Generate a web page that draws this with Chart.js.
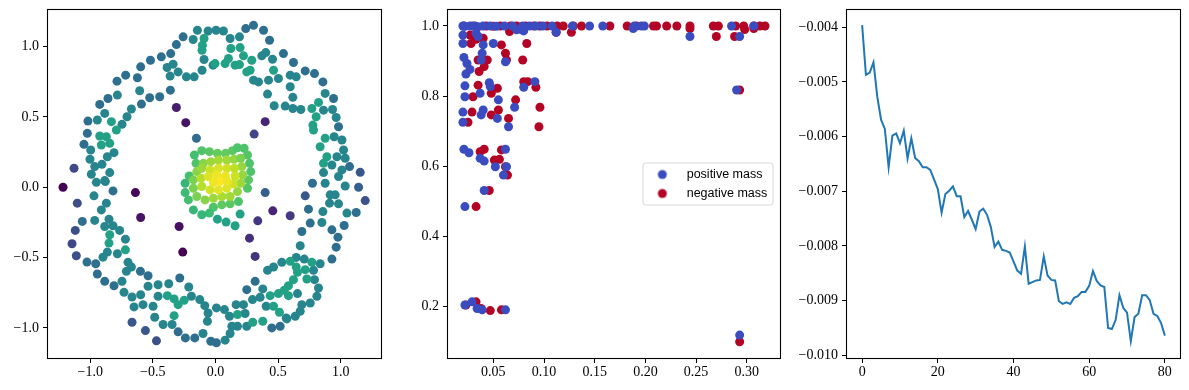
<!DOCTYPE html>
<html><head><meta charset="utf-8">
<script src="https://cdn.jsdelivr.net/npm/chart.js@4.4.1/dist/chart.umd.min.js"></script>
<style>
html,body{margin:0;padding:0;background:#fff;width:1189px;height:390px;overflow:hidden}
.pane{position:absolute;top:0;height:390px}
canvas{display:block}
</style></head><body>
<div class="pane" style="left:0;width:390px"><canvas id="c1" width="390" height="390"></canvas></div>
<div class="pane" style="left:400px;width:390px"><canvas id="c2" width="390" height="390"></canvas></div>
<div class="pane" style="left:790px;width:399px"><canvas id="c3" width="399" height="390"></canvas></div>
<script>
// ---------------- Panel 1 data: embedding points (x, y) and colour value ----------------
const ringDarkShade = 0.36;
const ringDark = [[-0.258,1.069],[-0.312,1.014],[-0.357,0.950],[-0.432,0.927],[-0.519,0.903],[-0.597,0.856],[-0.717,0.797],[-0.786,0.754],[-0.623,0.778],[-0.360,0.690],[-0.445,0.643],[-0.525,0.636],[-0.591,0.591],[-0.858,0.631],[-0.924,0.589],[-1.018,0.470],[-1.023,0.383],[-1.050,0.305],[0.242,1.128],[0.304,1.151],[0.384,1.116],[0.432,1.045],[0.543,0.950],[0.623,0.887],[0.717,0.827],[0.791,0.808],[0.858,0.749],[0.943,0.631],[0.983,0.430],[1.071,0.147],[0.775,0.028],
[-0.818,-0.026],[-1.063,-0.243],[-1.026,-0.532],[-0.956,-0.544],[-0.599,-0.598],[-0.538,-0.629],[-0.943,-0.617],[-0.884,-0.669],[-0.810,-0.700],[-0.285,-0.645],[-0.298,-1.028],[-0.240,-1.071],[-0.165,-1.071],[-0.037,-1.095],[0.008,-1.106],
[1.124,-0.180],[0.743,-0.156],[0.757,-0.255],[0.690,-0.315],[0.930,-0.303],[1.028,-0.272],[0.978,-0.355],[0.964,-0.426],[0.930,-0.511],[0.317,-0.669],[0.250,-0.728],[0.450,-1.000],[0.517,-0.988]];

const ringMidShade = 0.45;
const ringMid = [[-0.144,1.116],[-0.059,1.111],[-0.178,1.050],[-0.386,0.851],[-0.338,0.875],[-0.362,0.790],[-0.298,0.820],[-0.232,0.785],[-0.170,0.785],[-0.107,0.832],[-0.091,0.908],[-0.019,0.868],[-0.605,0.686],[-0.671,0.556],[-0.706,0.501],[-0.746,0.447],[-0.783,0.655],[-0.884,0.525],[-0.943,0.478],[-0.810,0.246],[-0.996,0.265],[-0.863,0.217],[-1.002,0.199],[-0.964,0.147],[-0.906,0.163],[-0.844,0.104],[-0.991,0.092],[-0.884,0.047],[-0.951,0.035],[0.005,1.116],[0.064,1.111],[0.117,1.057],[0.192,1.069],[0.370,0.934],[0.402,0.957],[0.456,0.910],[0.304,0.761],[0.344,0.749],[0.424,0.761],[0.503,0.773],[0.416,0.662],[0.597,0.797],[0.645,0.785],[0.597,0.714],[0.618,0.639],[0.469,0.579],[0.557,0.577],[0.618,0.560],[0.682,0.553],[0.876,0.667],[0.863,0.548],[0.935,0.553],[0.964,0.496],[0.948,0.359],[1.010,0.336],[0.970,0.217],[1.023,0.265],[1.036,0.206],[0.930,0.158],[1.010,0.123],[0.863,0.104],[0.983,0.076],[0.876,0.028],[1.036,0.009],
[-0.879,0.040],[-0.970,-0.061],[-0.871,-0.113],[-0.911,-0.161],[-0.964,-0.236],[-0.850,-0.227],[-0.884,-0.279],[-0.818,-0.274],[-0.765,-0.307],[-0.719,-0.369],[-0.863,-0.461],[-0.783,-0.473],[-0.898,-0.497],[-0.698,-0.534],[-0.671,-0.567],[-0.711,-0.598],[-0.746,-0.669],[-0.730,-0.747],[-0.666,-0.780],[-0.597,-0.764],[-0.538,-0.704],[-0.458,-0.693],[-0.373,-0.686],[-0.213,-0.709],[-0.458,-0.775],[-0.192,-0.775],[-0.125,-0.799],[-0.085,-0.842],[-0.650,-0.851],[-0.578,-0.835],[-0.498,-0.846],[-0.485,-0.924],[-0.418,-0.976],[-0.346,-0.976],[-0.059,-0.894],[-0.064,-0.953],[0.008,-0.858],[-0.099,-1.040],
[0.916,-0.054],[0.956,-0.054],[0.911,-0.113],[0.983,-0.118],[1.050,-0.184],[0.858,-0.173],[0.850,-0.251],[0.677,-0.416],[0.645,-0.499],[0.709,-0.511],[0.836,-0.544],[0.530,-0.534],[0.464,-0.567],[0.416,-0.591],[0.783,-0.591],[0.791,-0.657],[0.823,-0.716],[0.655,-0.756],[0.810,-0.775],[0.757,-0.823],[0.690,-0.835],[0.677,-0.882],[0.637,-0.917],[0.565,-0.929],[0.405,-0.846],[0.378,-0.723],[0.296,-0.799],[0.357,-0.783],[0.224,-0.835],[0.165,-0.835],[0.237,-0.898],[0.112,-0.917],[0.072,-0.870],[0.250,-0.988],[0.176,-0.988],[0.131,-0.988],[0.570,-0.936],[0.117,-1.040],[0.077,-1.087]];

const ringGreenShade = 0.57;
const ringGreen = [[-0.091,1.057],[-0.104,1.009],[-0.107,0.974],[-0.831,0.466],[-0.791,0.407],[-0.924,0.364],[-0.871,0.359],[-0.844,0.312],[-0.911,0.300],[0.123,0.986],[0.197,0.993],[0.224,0.934],[0.290,0.903],[-0.003,0.879],[0.077,0.879],[0.104,0.915],[0.157,0.868],[0.192,0.872],[0.250,0.820],[0.277,0.832],[0.464,0.832],[0.823,0.603],[0.770,0.560],[0.804,0.501],[0.778,0.442],[0.783,0.407],[0.876,0.348],[0.836,0.288],[0.890,0.217],[0.863,0.170],
[-0.844,-0.338],[-0.850,-0.397],[-0.719,-0.445],[-0.384,-0.771],[-0.330,-0.794],[-0.298,-0.835],[-0.250,-0.804],[-0.330,-0.913],
[0.770,-0.534],[0.597,-0.527],[0.645,-0.567],[0.655,-0.605],[0.717,-0.586],[0.730,-0.652],[0.623,-0.657],[0.583,-0.700],[0.549,-0.733],[0.503,-0.756],[0.583,-0.771],[0.511,-0.889],[0.464,-0.846],[0.437,-0.771],[0.176,-0.905],[0.298,-0.960],[0.378,-0.953],
[0.197,-0.191],[0.085,-0.248],[0.157,-0.274],[0.016,-0.227]];

const sparsePoints = [[-1.217,0.000,0.00],[-1.129,0.135,0.22],[-1.103,-0.113,0.24],[-0.639,-0.038,0.02],[-0.597,-0.215,0.05],[-0.290,-0.279,0.04],[-0.261,-0.461,0.00],[-0.312,0.567,0.08],[-0.237,0.459,0.05],[-0.152,0.348,0.35],[0.397,0.466,0.10],[0.309,0.378,0.20],[0.397,-0.038,0.30],[0.458,-0.168,0.10],[0.597,-0.203,0.17],[0.338,-0.239,0.16],[0.272,-0.362,0.13],[0.317,-0.492,0.15],[0.717,-0.061,0.27],[1.156,0.106,0.27],[1.143,0.000,0.30],[1.196,-0.095,0.25],[-1.119,-0.307,0.24],[-1.145,-0.402,0.22],[-1.111,-0.487,0.24],[-0.666,-0.960,0.27],[-0.559,-1.019,0.27],[-0.471,-1.092,0.24]];

const corePoints = [[-0.168,0.229,0.70],[-0.109,0.260,0.72],[-0.048,0.253,0.74],[0.016,0.241,0.76],[0.080,0.241,0.76],[0.136,0.260,0.74],[0.176,0.281,0.72],[0.229,0.277,0.72],[0.256,0.229,0.73],[0.272,0.170,0.72],[0.282,0.111,0.72],[0.264,0.052,0.74],[0.256,-0.007,0.73],[0.184,-0.102,0.72],[0.117,-0.118,0.74],[0.051,-0.125,0.75],[-0.016,-0.142,0.72],[-0.048,-0.184,0.68],[-0.109,-0.196,0.66],[-0.176,-0.161,0.66],[-0.216,-0.090,0.70],[-0.242,-0.038,0.68],[-0.242,0.028,0.66],[-0.210,0.080,0.70],[-0.155,0.170,0.72],
[-0.096,0.170,0.82],[-0.037,0.182,0.85],[0.024,0.194,0.86],[0.091,0.194,0.86],[0.149,0.199,0.84],[0.202,0.206,0.80],[0.210,0.147,0.84],[0.218,0.087,0.84],[0.202,0.028,0.85],[0.176,-0.031,0.84],[0.117,-0.066,0.86],[0.051,-0.066,0.87],[-0.016,-0.078,0.85],[-0.083,-0.090,0.82],[-0.149,-0.066,0.80],[-0.176,-0.007,0.80],[-0.176,0.052,0.80],[-0.149,0.111,0.82],[-0.109,0.135,0.85],
[-0.043,0.123,0.92],[0.024,0.135,0.94],[0.091,0.135,0.93],[0.152,0.135,0.90],[0.157,0.080,0.92],[0.144,0.024,0.92],[0.091,-0.007,0.95],[0.024,-0.019,0.96],[-0.043,-0.019,0.93],[-0.109,0.005,0.89],[-0.115,0.064,0.89],[-0.056,0.076,0.95],[0.011,0.087,0.98],[0.080,0.080,0.97],[0.037,0.040,1.00],[-0.016,0.033,0.98],[0.096,0.040,0.97]];

const p1TickVals = [-1.0, -0.5, 0.0, 0.5, 1.0];
const p1TickLabels = ['\u22121.0', '\u22120.5', '0.0', '0.5', '1.0'];

// ---------------- Panel 2 data ----------------
const positiveMass = [[0.020,1.000],[0.022,0.999],[0.027,1.000],[0.032,1.000],[0.035,0.998],[0.040,1.000],[0.047,1.000],[0.053,0.999],[0.061,1.000],[0.069,1.000],[0.079,1.000],[0.086,1.000],[0.092,1.000],[0.099,1.000],[0.108,1.000],[0.128,1.000],[0.145,1.000],[0.158,1.000],[0.189,1.000],[0.196,1.000],[0.199,1.000],[0.285,1.000],[0.307,1.000],
[0.188,0.993],[0.244,0.970],[0.293,0.970],[0.112,0.982],[0.080,0.986],[0.073,0.989],
[0.020,0.950],[0.020,0.974],[0.021,0.910],[0.024,0.893],[0.027,0.876],[0.023,0.863],[0.022,0.829],[0.022,0.798],[0.020,0.754],[0.020,0.725],[0.021,0.648],[0.026,0.638],[0.022,0.484],[0.022,0.203],[0.029,0.212],[0.034,0.193],[0.039,0.189],[0.062,0.189],[0.293,0.117],[0.290,0.817],
[0.033,0.979],[0.035,0.970],[0.040,0.946],[0.039,0.922],[0.038,0.903],[0.037,0.808],[0.038,0.746],[0.040,0.760],[0.037,0.622],[0.041,0.614],[0.041,0.530],[0.046,0.838],[0.047,0.827],[0.050,0.950],[0.055,0.789],[0.054,0.736],[0.052,0.598],[0.062,0.898],[0.063,0.598],[0.060,0.574],[0.062,0.648],[0.065,0.712],[0.071,0.768],[0.080,0.825],[0.091,0.841],[0.078,0.989]];
const negativeMass = [[0.021,1.000],[0.030,1.000],[0.043,1.000],[0.050,0.999],[0.057,1.000],[0.067,1.000],[0.073,1.000],[0.078,0.998],[0.082,1.000],[0.090,1.000],[0.096,1.000],[0.103,1.000],[0.113,1.000],[0.119,1.000],[0.129,1.000],[0.137,1.000],[0.165,1.000],[0.182,1.000],[0.191,1.000],[0.208,1.000],[0.211,1.000],[0.221,1.000],[0.231,1.000],[0.244,1.000],[0.267,1.000],[0.272,1.000],[0.289,1.000],[0.297,1.000],[0.307,1.000],[0.313,1.000],[0.318,1.000],
[0.066,0.984],[0.112,0.982],[0.127,0.982],[0.244,0.993],[0.270,0.970],[0.288,0.970],[0.298,0.990],[0.307,0.993],
[0.027,0.974],[0.028,0.950],[0.033,0.962],[0.035,0.903],[0.036,0.870],[0.035,0.831],[0.030,0.798],[0.029,0.754],[0.025,0.725],[0.037,0.641],[0.041,0.648],[0.033,0.484],[0.023,0.203],[0.033,0.212],[0.038,0.193],[0.047,0.187],[0.058,0.189],[0.293,0.098],[0.293,0.817],
[0.040,0.965],[0.041,0.884],[0.044,0.903],[0.048,0.746],[0.048,0.808],[0.054,0.822],[0.055,0.760],[0.051,0.617],[0.056,0.619],[0.046,0.530],[0.058,0.946],[0.062,0.922],[0.063,0.903],[0.058,0.646],[0.064,0.574],[0.062,0.598],[0.065,0.736],[0.072,0.789],[0.079,0.903],[0.083,0.950],[0.080,0.841],[0.084,0.841],[0.092,0.825],[0.096,0.768],[0.095,0.712]];
const p2SeriesNames = ['positive mass', 'negative mass'];
const p2XTickVals = [0.05, 0.10, 0.15, 0.20, 0.25, 0.30];
const p2XTickLabels = ['0.05', '0.10', '0.15', '0.20', '0.25', '0.30'];
const p2YTickVals = [0.2, 0.4, 0.6, 0.8, 1.0];
const p2YTickLabels = ['0.2', '0.4', '0.6', '0.8', '1.0'];

// ---------------- Panel 3 data ----------------
const lossSteps = [0,1,2,3,4,5,6,7,8,9,10,11,12,13,14,15,16,17,18,19,20,21,22,23,24,25,26,27,28,29,30,31,32,33,34,35,36,37,38,39,40,41,42,43,44,45,46,47,48,49,50,51,52,53,54,55,56,57,58,59,60,61,62,63,64,65,66,67,68,69,70,71,72,73,74,75,76,77,78,79,80];
const lossValues = [-0.00396,-0.00487,-0.00483,-0.00464,-0.00527,-0.00569,-0.00586,-0.00656,-0.00598,-0.00594,-0.00612,-0.00589,-0.00640,-0.00603,-0.00639,-0.00645,-0.00656,-0.00656,-0.00661,-0.00678,-0.00696,-0.00739,-0.00705,-0.00699,-0.00691,-0.00709,-0.00709,-0.00747,-0.00736,-0.00752,-0.00769,-0.00737,-0.00732,-0.00743,-0.00765,-0.00802,-0.00792,-0.00807,-0.00809,-0.00812,-0.00828,-0.00845,-0.00851,-0.00801,-0.00869,-0.00866,-0.00863,-0.00862,-0.00819,-0.00854,-0.00862,-0.00863,-0.00901,-0.00906,-0.00903,-0.00906,-0.00895,-0.00892,-0.00884,-0.00884,-0.00873,-0.00846,-0.00864,-0.00872,-0.00875,-0.00950,-0.00952,-0.00935,-0.00890,-0.00913,-0.00922,-0.00974,-0.00930,-0.00924,-0.00890,-0.00890,-0.00899,-0.00924,-0.00928,-0.00941,-0.00964];
const p3XTickVals = [0, 20, 40, 60, 80];
const p3XTickLabels = ['0', '20', '40', '60', '80'];
const p3YTickVals = [-0.004, -0.005, -0.006, -0.007, -0.008, -0.009, -0.010];
const p3YTickLabels = ['\u22120.004', '\u22120.005', '\u22120.006', '\u22120.007', '\u22120.008', '\u22120.009', '\u22120.010'];

// ---------------- helpers ----------------
const VIRIDIS = ['#440154','#482475','#414487','#355f8d','#2a788e','#21918c','#22a884','#44bf70','#7ad151','#bddf26','#fde725'];
function hex2rgb(h){return [parseInt(h.slice(1,3),16),parseInt(h.slice(3,5),16),parseInt(h.slice(5,7),16)];}
function viridis(t){
  t = Math.max(0, Math.min(1, t)) * (VIRIDIS.length - 1);
  const i = Math.min(Math.floor(t), VIRIDIS.length - 2), f = t - i;
  const a = hex2rgb(VIRIDIS[i]), b = hex2rgb(VIRIDIS[i+1]);
  return 'rgb(' + a.map((v,k)=>Math.round(v + (b[k]-v)*f)).join(',') + ')';
}
const TICK_FONT = {family: "'Liberation Serif', 'Times New Roman', serif", size: 14};
function axis(min, max, vals, labels, fixed, isX){
  return {
    type: 'linear', min: min, max: max,
    afterBuildTicks: s => { s.ticks = vals.map(v => ({value: v})); },
    afterFit: s => { if (isX) s.height = fixed; else s.width = fixed; s.paddingTop = 0; s.paddingBottom = 0; s.paddingLeft = 0; s.paddingRight = 0; },
    ticks: {autoSkip: false, maxRotation: 0, minRotation: 0, padding: isX ? 1 : 4, color: '#000', font: TICK_FONT, callback: (v, i) => labels[i]},
    grid: {drawOnChartArea: false, drawTicks: true, tickLength: 5, color: '#000', lineWidth: 1},
    border: {display: false}
  };
}
const framePlugin = {
  id: 'frame',
  afterDatasetsDraw(chart){
    const a = chart.chartArea, ctx = chart.ctx;
    ctx.save(); ctx.strokeStyle = '#000'; ctx.lineWidth = 1.1;
    ctx.strokeRect(Math.round(a.left) - 0.5, Math.round(a.top) - 0.5, Math.round(a.right - a.left) + 1, Math.round(a.bottom - a.top) + 1);
    ctx.restore();
  }
};
const common = {responsive: false, devicePixelRatio: 1, animation: false, events: []};

// ---------------- Panel 1 ----------------
(function(){
  const pts = [], cols = [];
  function add(list, shade){ list.forEach(p => { pts.push({x: p[0], y: p[1]}); cols.push(viridis(p.length > 2 ? p[2] : shade)); }); }
  add(ringDark, ringDarkShade); add(ringMid, ringMidShade); add(ringGreen, ringGreenShade);
  add(sparsePoints); add(corePoints);
  new Chart(document.getElementById('c1'), {
    type: 'scatter',
    data: {datasets: [{data: pts, pointBackgroundColor: cols, pointBorderWidth: 0, pointRadius: 4.5}]},
    options: Object.assign({}, common, {
      layout: {padding: {left: 0, right: 9, top: 10, bottom: 0}},
      plugins: {legend: {display: false}, tooltip: {enabled: false}},
      scales: {
        x: axis(-1.337, 1.322, p1TickVals, p1TickLabels, 32, true),
        y: axis(-1.214, 1.260, p1TickVals, p1TickLabels, 48, false)
      }
    }),
    plugins: [framePlugin]
  });
})();

// ---------------- Panel 2 ----------------
(function(){
  const blue = '#3b4cc0', red = '#b40426';
  function markerImg(color){
    const c = document.createElement('canvas'); c.width = 40; c.height = 12;
    const g = c.getContext('2d'); g.fillStyle = color; g.beginPath(); g.arc(7.85, 6, 4.5, 0, Math.PI*2); g.fill();
    return c;
  }
  const marks = [markerImg(blue), markerImg(red)];
  const legendPlace = {
    id: 'legendPlace',
    afterLayout(chart){
      const lg = chart.legend, a = chart.chartArea;
      if (!lg) return;
      lg.top = a.top; lg.bottom = a.bottom;
      lg.left = a.right - 118.05; lg.right = lg.left + lg.width;
      // draw without clipping to the legend box so the offset markers stay whole
      lg.draw = function(){ if (this.options.display) this._draw(); };
    },
    beforeDraw(chart){
      const a = chart.chartArea, ctx = chart.ctx;
      const w = 130, h = 42, x = a.right - 7 - w, y = (a.top + a.bottom) / 2 - h / 2, r = 3;
      ctx.save();
      ctx.beginPath();
      ctx.moveTo(x + r, y); ctx.lineTo(x + w - r, y); ctx.arcTo(x + w, y, x + w, y + r, r);
      ctx.lineTo(x + w, y + h - r); ctx.arcTo(x + w, y + h, x + w - r, y + h, r);
      ctx.lineTo(x + r, y + h); ctx.arcTo(x, y + h, x, y + h - r, r);
      ctx.lineTo(x, y + r); ctx.arcTo(x, y, x + r, y, r); ctx.closePath();
      ctx.fillStyle = 'rgba(255,255,255,0.8)'; ctx.fill();
      ctx.strokeStyle = '#d6d6d6'; ctx.lineWidth = 1; ctx.stroke();
      ctx.restore();
    }
  };
  new Chart(document.getElementById('c2'), {
    type: 'scatter',
    data: {datasets: [
      {label: p2SeriesNames[0], data: positiveMass.map(p => ({x: p[0], y: p[1]})), pointBackgroundColor: blue, backgroundColor: blue, borderColor: blue, pointBorderWidth: 0, pointRadius: 4.5},
      {label: p2SeriesNames[1], data: negativeMass.map(p => ({x: p[0], y: p[1]})), pointBackgroundColor: red, backgroundColor: red, borderColor: red, pointBorderWidth: 0, pointRadius: 4.5}
    ]},
    options: Object.assign({}, common, {
      layout: {padding: {left: 0, right: 10, top: 10, bottom: 0}},
      plugins: {
        tooltip: {enabled: false},
        legend: {
          display: true, position: 'chartArea', align: 'center',
          labels: {
            usePointStyle: true, boxWidth: 12, boxHeight: 6, padding: 6.5, color: '#000',
            font: {family: "'Liberation Sans', Arial, sans-serif", size: 12.5},
            generateLabels: chart => Chart.defaults.plugins.legend.labels.generateLabels(chart).map((it, i) => { it.pointStyle = marks[i]; return it; })
          }
        }
      },
      scales: {
        x: axis(0.0053, 0.3328, p2XTickVals, p2XTickLabels, 32, true),
        y: axis(0.0515, 1.0457, p2YTickVals, p2YTickLabels, 48, false)
      }
    }),
    plugins: [legendPlace, framePlugin]
  });
})();

// ---------------- Panel 3 ----------------
new Chart(document.getElementById('c3'), {
  type: 'line',
  data: {labels: lossSteps, datasets: [{data: lossValues, borderColor: '#1f77b4', borderWidth: 2, pointRadius: 0, tension: 0, fill: false}]},
  options: Object.assign({}, common, {
    layout: {padding: {left: 0, right: 9, top: 10, bottom: 0}},
    plugins: {legend: {display: false}, tooltip: {enabled: false}},
    scales: {
      x: axis(-4, 84, p3XTickVals, p3XTickLabels, 32, true),
      y: axis(-0.010049, -0.003684, p3YTickVals, p3YTickLabels, 57, false)
    }
  }),
  plugins: [framePlugin]
});
</script>
</body></html>
